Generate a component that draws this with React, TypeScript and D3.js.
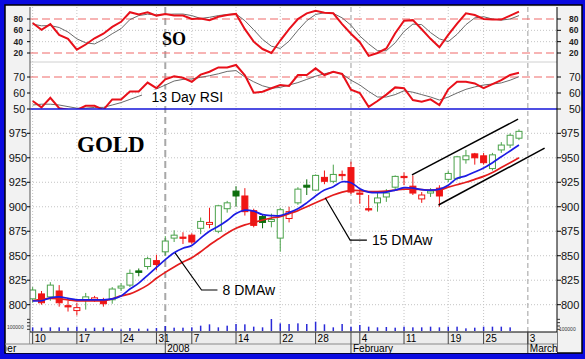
import React from "react";
import * as d3 from "d3";

const dates = [
  "2007-12-10","2007-12-11","2007-12-12","2007-12-13","2007-12-14",
  "2007-12-17","2007-12-18","2007-12-19","2007-12-20","2007-12-21",
  "2007-12-24","2007-12-26","2007-12-27","2007-12-28","2007-12-31",
  "2008-01-02","2008-01-03","2008-01-04","2008-01-07","2008-01-08",
  "2008-01-09","2008-01-10","2008-01-11","2008-01-14","2008-01-15",
  "2008-01-16","2008-01-17","2008-01-18","2008-01-22","2008-01-23",
  "2008-01-24","2008-01-25","2008-01-28","2008-01-29","2008-01-30",
  "2008-01-31","2008-02-01","2008-02-04","2008-02-05","2008-02-06",
  "2008-02-07","2008-02-08","2008-02-11","2008-02-12","2008-02-13",
  "2008-02-14","2008-02-15","2008-02-19","2008-02-20","2008-02-21",
  "2008-02-22","2008-02-25","2008-02-26","2008-02-27","2008-02-28","2008-02-29"
];

const opens = [806,811,808,814,799,794,805,805,805,805,817,820,834.5,839,845,854,868,869,871,878,882,875,898,916,911,896,890,885,868,888,904,922,917,930,926,933,940,914,898,904,910,920,931,921,908,914,919,928,929,948,954,952,939,958,963,970];
const highs = [818,814,823,820,804,802,812,809,807,818,822,836,837,849,851,870,876,874,873,889,899,902,906,921,919,898,892,893,899,900,920,928,933,937,943,937,946,918,912,914,918,932,935,932,915,919,922,937,952,958,955,955,955,966,975,979];
const lows = [802,800,804,798,793,789,795,803,798,801,814,818,829,836,835,850,864,862,862,872,878,873,894,900,891,879,878,879,854,884,902,912,916,923,924,927,913,903,895,895,905,918,922,912,904,910,900,925,927,944,943,943,937,955,960,968];
const closes = [815,802,820,802,798,797,808,807,801,816,819,832,833,847,841,865,871,868,864,885,884,901,904,911,895,881,884,887,897,895,918,920,932,926,933,932,915,913,897,909,914,931,930,914,912,916,911,934,951,952,950,945,953,963,973,977];

const ma8 = [804,804,807,808,806.5,805,805,805,805,806,809,816,822,830,838,846,853,857.6,860.5,868,875,880,886,893,896.5,895.5,892,891,891,894,898,904,911,917,920.5,925.5,924.5,918.5,915,914.4,915,917,919.5,919,917.5,917,918,922,929,931.5,935.5,939.5,945,951,957,963];
const ma15 = [804,805.5,806.5,806,805,804,804,804,804,806,809,811,815,820,827,833,838.5,843.5,848,854,861,867,873,878,881.5,884,886.5,888.5,890,893,896,900,904,908,912,915,916.5,916.5,915.5,915.5,916,917,918,918,917.5,917,917,920,922.5,925,928,931,935,940,945,950];

const soK = [73,61,71,52,45,26,35,46,54,66,75,92,88,92,86,89,86,86,80,81,78,84,87,89,62,40,27,20,42,62,80,90,94.5,91,90,71,54,39,15,20,28,55,77,78,62,45,30,52,72,90,87,80,79,79,86,93];
const soD = [71,68,68.5,65,57,45,38,36,44,54,63,79,86,88.5,87,88,88.7,88.7,86,81,83,86,88,89,77,61,44,32,28,41,60,77,88,91,90,82,69,50,36,24,24,38,58,71,70,56,45,40,53,70,82,84,80,78,80,86];

const rsi = [55,51,57,50.5,49.5,49.4,52,52,49.5,56,56,61,61,66.5,63,68.5,70.5,69.5,67,71.5,73.3,76,76,77.5,71,60.2,60.8,63,65,64.4,71.25,71.25,75.4,71.25,73.3,71.9,62,60,51.4,55,59,63.5,63,55.6,54.6,56,52.5,62.3,67,67,66,63,65.6,68,71.25,72.7];
const rsiSignal = [52.5,53,53,52.5,51.5,50.5,50.5,51,51,52.5,54,56,58,60,62.5,65,67.5,68.5,68.8,69.8,70.8,72,73.5,74,70,67,64.5,63,63.5,65,66.5,68.5,70.5,72,73.3,71.9,68,65,61,57.5,57.5,59,61.4,60.5,59,57.5,55.6,57.5,60,62.3,63.8,65,65.6,66.3,68,70.2];

const volume = [11,10,11,11,10,13,8,10,11,8,5,9,7,7,9,15,10,10,11,16,20,11,16,21,20,13,11,36,23,21,23,21,28,20,11,21,13,18,13,11,12,10,13,11,11,13,11,13,13,8,10,13,13,13,11,0];

const dayTickIndex = [0,5,10,14,18,23,28,32,37,42,47,51,56];
const dayTickLabels = ["10","17","24","31","7","14","22","28","4","11","19","25","3"];
const monthIndex = [-7.3,15,36,56];
const monthLabels = ["December","2008","February","March"];

const priceTicks = [800,825,850,875,900,925,950,975];
const soTicks = [20,40,60,80];
const soSignalLevels = [20,80];
const rsiTicks = [50,60,70];

const channelUpper = [[42.9,932.5],[54.9,989.4]];
const channelLower = [[45.9,901.8],[57.9,959.8]];
const note8 = [[16.1,853],[19.1,815],[20.9,815]];
const note15 = [[33.1,909],[35.9,866],[37.8,866]];

const SANS = "'Liberation Sans', Arial, sans-serif";
const SERIF = "'Liberation Serif', 'Times New Roman', serif";

export default function App() {
  const left = 30, right = 557;
  const soTop = 7, soBot = 62, rsiBot = 109, priceBot = 332;
  const x = d3.scaleLinear().domain([-0.3, 59.3]).range([left, right]);
  const yP = d3.scaleLinear().domain([800, 975]).range([304.7, 133.3]);
  const ySO = d3.scaleLinear().domain([20, 80]).range([53, 19]);
  const yR = d3.scaleLinear().domain([50, 70]).range([109, 77]);
  const yV = d3.scaleLinear().domain([0, 36]).range([331, 319]);

  const maLine = d3.line<number>().x((_, i) => x(i)).y(v => yP(v)).curve(d3.curveCatmullRom);
  const soLine = d3.line<number>().x((_, i) => x(i)).y(v => ySO(v));
  const rLine = d3.line<number>().x((_, i) => x(i)).y(v => yR(v));
  const pLine = d3.line<number[]>().x(d => x(d[0])).y(d => yP(d[1]));

  const weekIdx = dayTickIndex.filter(i => !monthIndex.includes(i));
  const gridCol = "#c4c4c4";

  return (
    <svg width={585} height={359} style={{ position: "absolute", left: 0, top: 0, display: "block" }}>
      <defs>
        <clipPath id="cso"><rect x={left} y={soTop} width={right - left} height={soBot - soTop} /></clipPath>
        <clipPath id="crsi"><rect x={left} y={soBot} width={right - left} height={rsiBot - soBot} /></clipPath>
        <clipPath id="cpr"><rect x={left} y={rsiBot} width={right - left} height={priceBot - rsiBot} /></clipPath>
        <clipPath id="cmonth"><rect x={6.5} y={344} width={right - 6.5} height={9} /></clipPath>
      </defs>
      <rect x={0} y={0} width={585} height={359} fill="#0a0ae0" />
      <rect x={5} y={5} width={577} height={348} fill="#f2f2f2" stroke="#000" strokeWidth={1.5} />
      <rect x={left} y={soTop} width={right - left} height={priceBot - soTop} fill="#ffffff" />

      {weekIdx.map(i => (
        <line key={"vg" + i} x1={x(i)} x2={x(i)} y1={soTop} y2={priceBot} stroke={gridCol} strokeDasharray="1 2" />
      ))}
      {monthIndex.filter(i => i >= 0).map((i, k) => (
        <line key={"mg" + i} x1={x(i)} x2={x(i)} y1={soTop} y2={priceBot}
          stroke={k === 0 ? "#a8a8a8" : "#b4b4b4"} strokeWidth={k === 0 ? 2 : 1.3} strokeDasharray={k === 0 ? "7 4" : "5 3"} />
      ))}

      {priceTicks.map(p => (
        <line key={"hp" + p} x1={left} x2={right} y1={yP(p)} y2={yP(p)} stroke={gridCol} strokeDasharray="1 2" />
      ))}
      {soTicks.filter(v => !soSignalLevels.includes(v)).map(v => (
        <line key={"hs" + v} x1={left} x2={right} y1={ySO(v)} y2={ySO(v)} stroke={gridCol} strokeDasharray="1 2" />
      ))}
      <line x1={left} x2={right} y1={yR(60)} y2={yR(60)} stroke={gridCol} strokeDasharray="1 2" />
      <line x1={left} x2={right} y1={soBot} y2={soBot} stroke="#d0d0d0" />
      {soSignalLevels.map(v => (
        <line key={"ss" + v} x1={left} x2={right} y1={ySO(v)} y2={ySO(v)} stroke="#f06a6a" strokeWidth={1.2} strokeDasharray="8 4" />
      ))}
      <line x1={left} x2={right} y1={yR(70)} y2={yR(70)} stroke="#f06a6a" strokeWidth={1.2} strokeDasharray="8 4" />

      <g clipPath="url(#cso)">
        <path d={soLine(soD) || ""} fill="none" stroke="#6a6a6a" strokeWidth={1} />
        <path d={soLine(soK) || ""} fill="none" stroke="#e8101a" strokeWidth={2} />
      </g>
      <text x={162} y={45} fontFamily={SERIF} fontWeight="bold" fontSize={18} fill="#000">SO</text>

      <g clipPath="url(#crsi)">
        <path d={rLine(rsiSignal) || ""} fill="none" stroke="#6a6a6a" strokeWidth={1} />
        <path d={rLine(rsi) || ""} fill="none" stroke="#e8101a" strokeWidth={2} />
      </g>
      <rect x={142} y={89.5} width={84} height={16} fill="#ffffff" />
      <text x={151.5} y={101.5} fontFamily={SANS} fontSize={14} fill="#000">13 Day RSI</text>
      <line x1={left} x2={right} y1={yR(50)} y2={yR(50)} stroke="#1414d8" strokeWidth={1.6} />

      <g clipPath="url(#cpr)">
        {volume.map((v, i) => v > 0 ? (
          <rect key={"v" + i} x={x(i) - 0.75} y={yV(v)} width={1.5} height={yV(0) - yV(v)} fill="#2a2ad8" />
        ) : null)}
        {dates.map((d, i) => {
          const o = opens[i], c = closes[i];
          const prev = i === 0 ? o : closes[i - 1];
          const up = c >= prev;
          const filled = c < o;
          const col = up ? (filled ? "#0c6e0c" : "#4aa24a") : "#f01414";
          const yt = yP(Math.max(o, c)), yb = yP(Math.min(o, c));
          const bh = Math.max(1.2, yb - yt);
          const cx = x(i);
          return (
            <g key={d}>
              <line x1={cx} x2={cx} y1={yP(highs[i])} y2={yP(lows[i])} stroke={col} strokeWidth={1} />
              <rect x={cx - 3} y={yt} width={6} height={bh} fill={filled ? col : "#ffffff"} stroke={col} strokeWidth={1} />
            </g>
          );
        })}
        <path d={maLine(ma15) || ""} fill="none" stroke="#e41c1c" strokeWidth={1.7} />
        <path d={maLine(ma8) || ""} fill="none" stroke="#1c1ce4" strokeWidth={1.7} />
        <path d={pLine(channelUpper) || ""} fill="none" stroke="#000" strokeWidth={1.5} />
        <path d={pLine(channelLower) || ""} fill="none" stroke="#000" strokeWidth={1.5} />
        <path d={pLine(note8) || ""} fill="none" stroke="#000" strokeWidth={1.2} />
        <path d={pLine(note15) || ""} fill="none" stroke="#000" strokeWidth={1.2} />
      </g>
      <text x={x(note8[2][0]) + 5} y={yP(note8[2][1]) + 5} fontFamily={SANS} fontSize={14} fill="#000">8 DMAw</text>
      <text x={x(note15[2][0]) + 5} y={yP(note15[2][1]) + 5} fontFamily={SANS} fontSize={14} fill="#000">15 DMAw</text>
      <text x={77} y={151.5} fontFamily={SERIF} fontWeight="bold" fontSize={23} fill="#000">GOLD</text>

      <line x1={left} x2={left} y1={soTop} y2={344} stroke="#555" strokeWidth={1} />
      <line x1={right} x2={right} y1={soTop} y2={353} stroke="#000" strokeWidth={1} />

      {priceTicks.map(p => (
        <g key={"pl" + p}>
          <text x={27} y={yP(p) + 4} textAnchor="end" fontFamily={SANS} fontSize={11} fill="#111">{p}</text>
          <text x={561} y={yP(p) + 4} fontFamily={SANS} fontSize={11} fill="#111">{p}</text>
          <line x1={right} x2={right + 4} y1={yP(p)} y2={yP(p)} stroke="#000" />
          <line x1={left - 3} x2={left} y1={yP(p)} y2={yP(p)} stroke="#000" />
        </g>
      ))}
      {soTicks.map(v => (
        <g key={"sl" + v}>
          <text x={23} y={ySO(v) + 3} textAnchor="end" fontFamily={SANS} fontWeight="bold" fontSize={8.5} fill="#222">{v}</text>
          <text x={569} y={ySO(v) + 3} fontFamily={SANS} fontWeight="bold" fontSize={8.5} fill="#222">{v}</text>
          <line x1={right} x2={right + 4} y1={ySO(v)} y2={ySO(v)} stroke="#000" />
          <line x1={left - 3} x2={left} y1={ySO(v)} y2={ySO(v)} stroke="#000" />
        </g>
      ))}
      {rsiTicks.map(v => (
        <g key={"rl" + v}>
          <text x={25} y={yR(v) + 4} textAnchor="end" fontFamily={SANS} fontSize={10.5} fill="#111">{v}</text>
          <text x={569} y={yR(v) + 4} fontFamily={SANS} fontSize={10.5} fill="#111">{v}</text>
          <line x1={right} x2={right + 4} y1={yR(v)} y2={yR(v)} stroke="#000" />
          <line x1={left - 3} x2={left} y1={yR(v)} y2={yR(v)} stroke="#000" />
        </g>
      ))}
      {[5, 15, 25, 35].map(v => (
        <g key={"vt" + v}>
          <line x1={left - 3} x2={left} y1={yV(v)} y2={yV(v)} stroke="#333" />
          <line x1={right} x2={right + 3} y1={yV(v)} y2={yV(v)} stroke="#333" />
        </g>
      ))}
      <text x={7} y={329} fontFamily={SANS} fontSize={5} fill="#333">100000</text>
      <text x={559} y={331} fontFamily={SANS} fontSize={5} fill="#333">100000</text>

      <rect x={left} y={priceBot} width={right - left} height={12} fill="#ececec" />
      <rect x={6} y={344} width={right - 6} height={9} fill="#ececec" />
      <line x1={left} x2={right} y1={priceBot} y2={priceBot} stroke="#000" />
      <line x1={5} x2={right} y1={344} y2={344} stroke="#888" />
      {dayTickIndex.map((i, k) => (
        <g key={"dt" + i}>
          <line x1={x(i)} x2={x(i)} y1={priceBot} y2={344} stroke="#444" />
          <text x={x(i) + 2} y={342} fontFamily={SANS} fontSize={10} fill="#000">{dayTickLabels[k]}</text>
        </g>
      ))}
      <g clipPath="url(#cmonth)">
        {monthIndex.map((i, k) => (
          <g key={"mt" + k}>
            {i >= 0 && <line x1={x(i)} x2={x(i)} y1={priceBot} y2={353} stroke="#444" />}
            <text x={x(i) + 2} y={352} fontFamily={SANS} fontSize={10} fill="#000">{monthLabels[k]}</text>
          </g>
        ))}
      </g>
      {monthIndex.filter(i => i >= 0).map(i => (
        <line key={"ms" + i} x1={x(i)} x2={x(i)} y1={priceBot} y2={344} stroke="#444" />
      ))}
    </svg>
  );
}
